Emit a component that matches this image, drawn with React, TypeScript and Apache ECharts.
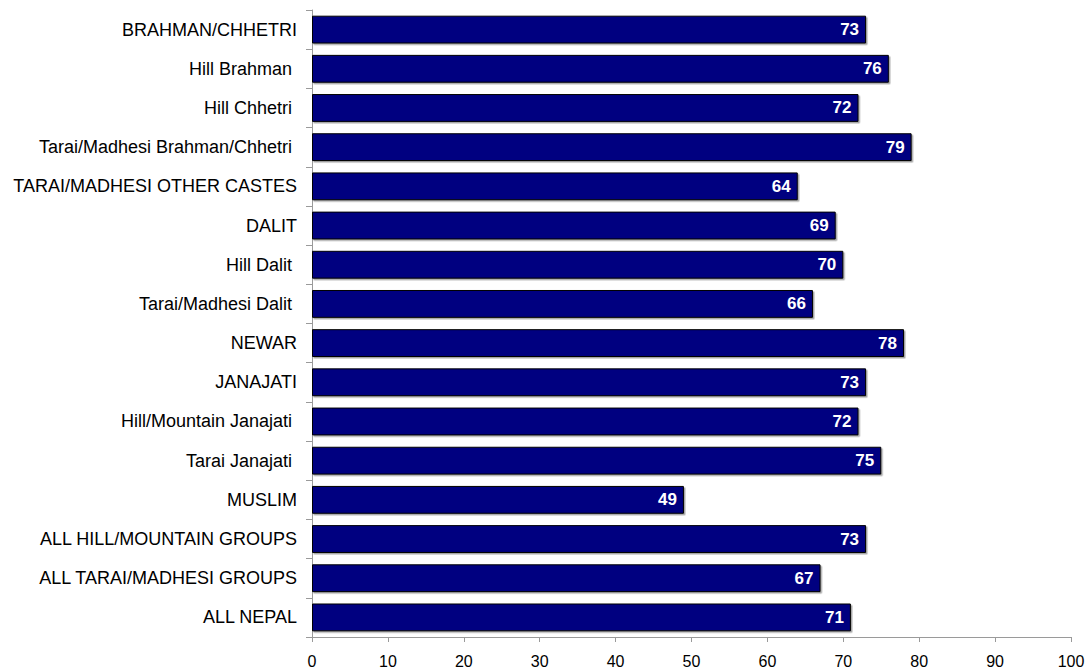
import React, { useEffect, useRef } from "react";
import * as echarts from "echarts";

// Population groups, top to bottom
const categories: string[] = [
  "BRAHMAN/CHHETRI",
  "Hill Brahman",
  "Hill Chhetri",
  "Tarai/Madhesi Brahman/Chhetri",
  "TARAI/MADHESI OTHER CASTES",
  "DALIT",
  "Hill Dalit",
  "Tarai/Madhesi Dalit",
  "NEWAR",
  "JANAJATI",
  "Hill/Mountain Janajati",
  "Tarai Janajati",
  "MUSLIM",
  "ALL HILL/MOUNTAIN GROUPS",
  "ALL TARAI/MADHESI GROUPS",
  "ALL NEPAL",
];

// Percentage value per group
const values: number[] = [73, 76, 72, 79, 64, 69, 70, 66, 78, 73, 72, 75, 49, 73, 67, 71];

// Sub-group names are written in mixed case and sit slightly further from the axis
const subGroups: string[] = [
  "Hill Brahman",
  "Hill Chhetri",
  "Tarai/Madhesi Brahman/Chhetri",
  "Hill Dalit",
  "Tarai/Madhesi Dalit",
  "Hill/Mountain Janajati",
  "Tarai Janajati",
];

const FONT = "'Liberation Sans', Arial, Helvetica, sans-serif";

export default function App() {
  const ref = useRef<HTMLDivElement>(null);

  useEffect(() => {
    if (!ref.current) return;
    const chart = echarts.init(ref.current, undefined, { renderer: "svg" });
    chart.setOption({
      animation: false,
      backgroundColor: "#ffffff",
      grid: { left: 312, right: 19, top: 10, bottom: 33, containLabel: false },
      xAxis: {
        type: "value",
        min: 0,
        max: 100,
        interval: 10,
        splitLine: { show: false },
        axisLine: { show: true, lineStyle: { color: "#9a9a9a", width: 1 } },
        axisTick: { show: true, length: 5, lineStyle: { color: "#9a9a9a" } },
        axisLabel: { color: "#000", fontSize: 16, fontFamily: FONT, margin: 16 },
      },
      yAxis: {
        type: "category",
        data: categories,
        inverse: true,
        axisLine: { show: true, lineStyle: { color: "#9a9a9a", width: 1 } },
        axisTick: { show: true, length: 6, lineStyle: { color: "#9a9a9a" } },
        axisLabel: {
          color: "#000",
          fontSize: 18,
          fontFamily: FONT,
          margin: 15,
          formatter: (v: string) => (subGroups.includes(v) ? `{sub|${v}}` : v),
          rich: {
            sub: { color: "#000", fontSize: 18, fontFamily: FONT, padding: [0, 5, 0, 0] },
          },
        },
      },
      series: [
        {
          type: "bar",
          data: values,
          barCategoryGap: "29%",
          itemStyle: {
            color: "#000080",
            borderColor: "#000000",
            borderWidth: 1,
            shadowColor: "rgba(0,0,0,0.35)",
            shadowOffsetX: 1.5,
            shadowOffsetY: 1.5,
            shadowBlur: 0,
          },
          label: {
            show: true,
            position: "insideRight",
            distance: 7,
            color: "#ffffff",
            fontWeight: "bold",
            fontSize: 17,
            fontFamily: FONT,
            formatter: (p: any) => String(p.value),
          },
        },
      ],
    });
    return () => chart.dispose();
  }, []);

  return (
    <div
      ref={ref}
      style={{ position: "fixed", left: 0, top: 0, width: 1090, height: 670, background: "#fff" }}
    />
  );
}
